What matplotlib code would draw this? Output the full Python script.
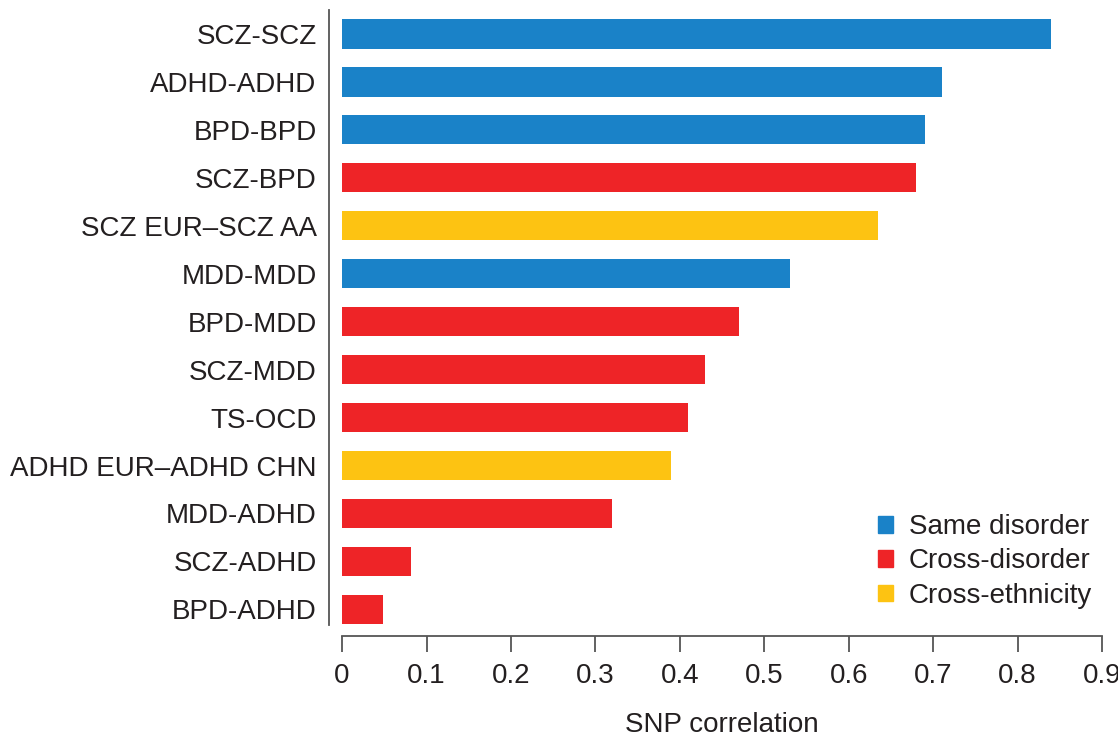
import matplotlib.pyplot as plt
from matplotlib.patches import Patch

plt.rcParams['font.family'] = ['Liberation Sans', 'DejaVu Sans']

# data, top to bottom
pares = ["SCZ-SCZ", "ADHD-ADHD", "BPD-BPD", "SCZ-BPD", "SCZ EUR\u2013SCZ AA",
         "MDD-MDD", "BPD-MDD", "SCZ-MDD", "TS-OCD", "ADHD EUR\u2013ADHD CHN",
         "MDD-ADHD", "SCZ-ADHD", "BPD-ADHD"]
correlacion = [0.84, 0.71, 0.69, 0.68, 0.635, 0.53, 0.47, 0.43, 0.41, 0.39,
               0.32, 0.082, 0.049]
tipo = ["same", "same", "same", "cross", "eth", "same", "cross", "cross",
        "cross", "eth", "cross", "cross", "cross"]

colores = {"same": "#1a82c8", "cross": "#ee2427", "eth": "#fdc312"}
etiquetas = {"same": "Same disorder", "cross": "Cross-disorder", "eth": "Cross-ethnicity"}
gris = "#231f20"

fig = plt.figure(figsize=(11.18, 7.39), dpi=100)
ax = fig.add_axes([0.306, 0.154, 0.6797, 0.8325])

y = list(range(len(pares)))
ax.barh(y, correlacion, height=0.61, color=[colores[t] for t in tipo])

ax.set_ylim(12.33, -0.5)
ax.set_xlim(0, 0.9)
ax.set_yticks(y)
ax.set_yticklabels(pares)
ax.set_xticks([i / 10 for i in range(10)])
ax.set_xticklabels(["0"] + [f"{i/10:.1f}" for i in range(1, 10)])

for s in ["top", "right"]:
    ax.spines[s].set_visible(False)
# ejes separados de las barras
ax.spines["left"].set_position(("outward", 9.4))
ax.spines["bottom"].set_position(("outward", 8))
ax.spines["left"].set_color("#555555")
ax.spines["bottom"].set_color("#555555")
ax.spines["left"].set_linewidth(1.3)
ax.spines["bottom"].set_linewidth(1.3)

ax.tick_params(axis="y", length=0, pad=9, labelsize=20, labelcolor=gris)
ax.tick_params(axis="x", length=11.5, width=1.3, color="#555555", pad=8,
               labelsize=20, labelcolor=gris)
ax.set_xlabel("SNP correlation", fontsize=20, color=gris, labelpad=16)

handles = [Patch(color=colores[k], label=etiquetas[k]) for k in ["same", "cross", "eth"]]
fig.legend(handles=handles, loc="lower right", bbox_to_anchor=(0.984, 0.165),
           frameon=False, fontsize=20, handlelength=0.55, handleheight=0.55,
           handletextpad=0.55, labelspacing=0.3, labelcolor=gris,
           borderaxespad=0, borderpad=0.3)

fig.savefig("out.png", dpi=100)
